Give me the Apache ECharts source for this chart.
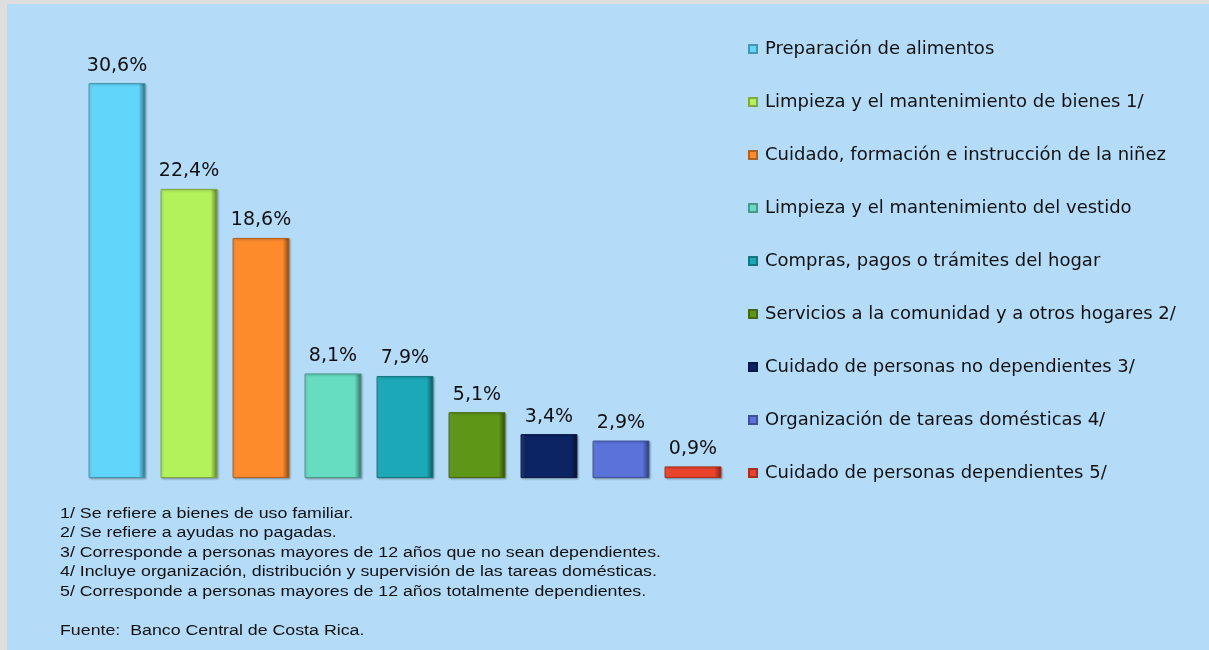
<!DOCTYPE html>
<html>
<head>
<meta charset="utf-8">
<script src="https://cdn.jsdelivr.net/npm/echarts@6/dist/echarts.min.js"></script>
<style>
  html, body { margin: 0; padding: 0; background: #dedede; }
  #chart { position: absolute; left: 7px; top: 4px; width: 1202px; height: 646px; background: #b4dcf9; }
</style>
</head>
<body>
<div id="chart"></div>
<script>
// categorias y valores (%)
const categories = [
  'Preparación de alimentos',
  'Limpieza y el mantenimiento de bienes 1/',
  'Cuidado, formación e instrucción de la niñez',
  'Limpieza y el mantenimiento del vestido',
  'Compras, pagos o trámites del hogar',
  'Servicios a la comunidad y a otros hogares 2/',
  'Cuidado de personas no dependientes 3/',
  'Organización de tareas domésticas 4/',
  'Cuidado de personas dependientes 5/'
];
const values = [30.6, 22.4, 18.6, 8.1, 7.9, 5.1, 3.4, 2.9, 0.9];
const colors = ['#62d5fb', '#b3f25b', '#fd8a2b', '#66dcc1', '#1ca8b6', '#5e9618', '#0c2463', '#5a72d9', '#ea432b'];
const notes = [
  '1/ Se refiere a bienes de uso familiar.',
  '2/ Se refiere a ayudas no pagadas.',
  '3/ Corresponde a personas mayores de 12 años que no sean dependientes.',
  '4/ Incluye organización, distribución y supervisión de las tareas domésticas.',
  '5/ Corresponde a personas mayores de 12 años totalmente dependientes.',
  '',
  'Fuente:  Banco Central de Costa Rica.'
];

function shade(hex, f) {
  let n = parseInt(hex.slice(1), 16);
  let r = n >> 16, g = (n >> 8) & 255, b = n & 255;
  const m = v => f < 0 ? Math.round(v * (1 + f)) : Math.round(v + (255 - v) * f);
  return 'rgb(' + m(r) + ',' + m(g) + ',' + m(b) + ')';
}

let mycharts = echarts.init(document.getElementById('chart'));

let series = categories.map((name, i) => {
  let c = colors[i];
  return {
    name: name,
    type: 'bar',
    stack: 'total',
    barWidth: '79%',
    data: values.map((v, j) => j === i ? v : '-'),
    itemStyle: {
      color: new echarts.graphic.LinearGradient(0, 0, 1, 0, [
        { offset: 0, color: shade(c, 0.15) },
        { offset: 0.08, color: c },
        { offset: 0.88, color: c },
        { offset: 1, color: shade(c, -0.5) }
      ]),
      borderColor: shade(c, -0.3),
      borderWidth: 1,
      shadowColor: 'rgba(0,0,0,0.25)',
      shadowBlur: 2,
      shadowOffsetX: 1,
      shadowOffsetY: 1
    },
    label: {
      show: true,
      position: 'top',
      distance: 8,
      fontFamily: 'DejaVu Sans',
      fontSize: 19,
      color: '#111',
      formatter: p => p.value.toFixed(1).replace('.', ',') + '%'
    }
  };
});

let option = {
  animation: false,
  color: colors,
  textStyle: { fontFamily: 'DejaVu Sans' },
  grid: { left: 74, width: 648, top: 61, bottom: 172 },
  xAxis: {
    type: 'category',
    data: categories,
    show: false
  },
  yAxis: {
    type: 'value',
    min: 0,
    max: 32,
    show: false
  },
  legend: {
    orient: 'vertical',
    left: 736,
    top: 31,
    icon: 'rect',
    itemWidth: 8,
    itemHeight: 8,
    itemGap: 35,
    textStyle: { fontFamily: 'DejaVu Sans', fontSize: 18, color: '#111', lineHeight: 18, padding: [0, 0, 0, 3] }
  },
  graphic: [{
    type: 'text',
    left: 53,
    top: 500,
    scaleX: 1.27,
    style: {
      text: notes.join('\n'),
      fontFamily: 'Liberation Sans',
      fontSize: 14,
      lineHeight: 19.5,
      fill: '#111'
    }
  }],
  series: series
};
mycharts.setOption(option);
</script>
</body>
</html>
